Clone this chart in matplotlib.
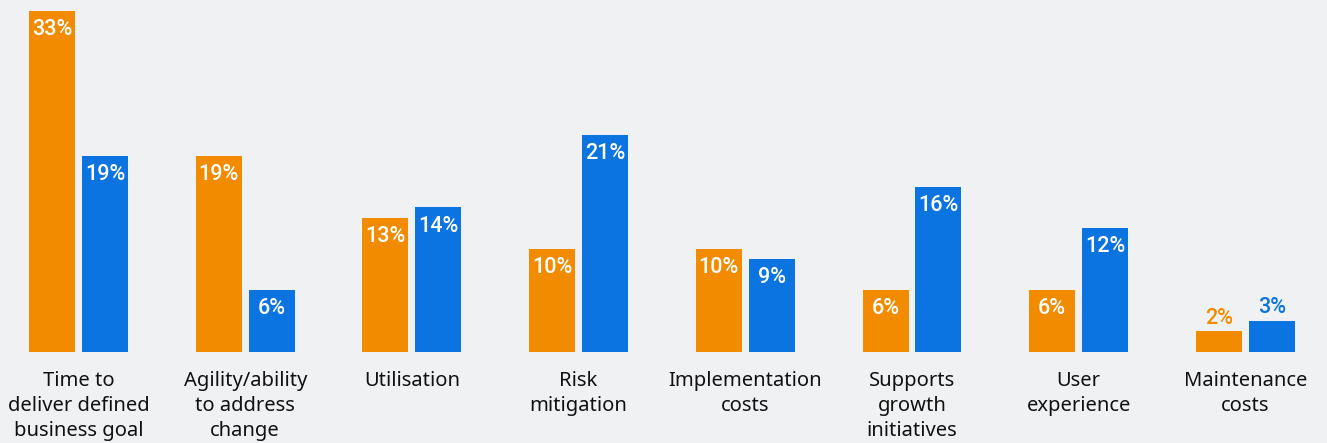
import matplotlib
matplotlib.use("Agg")
import matplotlib.pyplot as plt
import numpy as np

plt.rcParams.update({"font.family": ["Noto Sans", "DejaVu Sans"]})

categories = ["Time to\ndeliver defined\nbusiness goal", "Agility/ability\nto address\nchange",
              "Utilisation", "Risk\nmitigation", "Implementation\ncosts",
              "Supports\ngrowth\ninitiatives", "User\nexperience", "Maintenance\ncosts"]
orange_vals = [33, 19, 13, 10, 10, 6, 6, 2]
blue_vals = [19, 6, 14, 21, 9, 16, 12, 3]

BG = "#f0f1f3"
C_ORANGE, C_BLUE = "#f28b00", "#0b74e0"

W, H = 1327, 443
fig = plt.figure(figsize=(W / 100, H / 100), dpi=100, facecolor=BG)
base_px = 352
ax = fig.add_axes([0, (H - base_px) / H, 1, base_px / H])
ax.set_facecolor(BG)

px_per_pct = 341 / 33
group_px = 166.7
x0_px = 78.5
ax.set_xlim(-x0_px / group_px, (W - x0_px) / group_px)
ax.set_ylim(0, base_px / px_per_pct)

xs = np.arange(len(categories))
bw = 46 / group_px
off = 26.5 / group_px
lab_font = dict(family=["Roboto", "DejaVu Sans"], fontsize=15.5, fontweight="medium")
for vals, col, sign in ((orange_vals, C_ORANGE, -1), (blue_vals, C_BLUE, 1)):
    ax.bar(xs + sign * off, vals, width=bw, color=col, linewidth=0)
    for x, v in zip(xs + sign * off, vals):
        if v >= 5:
            ax.annotate(f"{v}%", (x, v), xytext=(0, -6), textcoords="offset points",
                        ha="center", va="top", color="white", **lab_font)
        else:
            ax.annotate(f"{v}%", (x, v), xytext=(0, 2), textcoords="offset points",
                        ha="center", va="bottom", color=col, **lab_font)

for x, lab in zip(xs, categories):
    ax.annotate(lab, (x, 0), xytext=(0, -13.5), textcoords="offset points",
                ha="center", va="top", color="#111111", fontsize=14.5, linespacing=1.33,
                annotation_clip=False)

ax.axis("off")
fig.savefig("out.png", dpi=100, facecolor=BG)
